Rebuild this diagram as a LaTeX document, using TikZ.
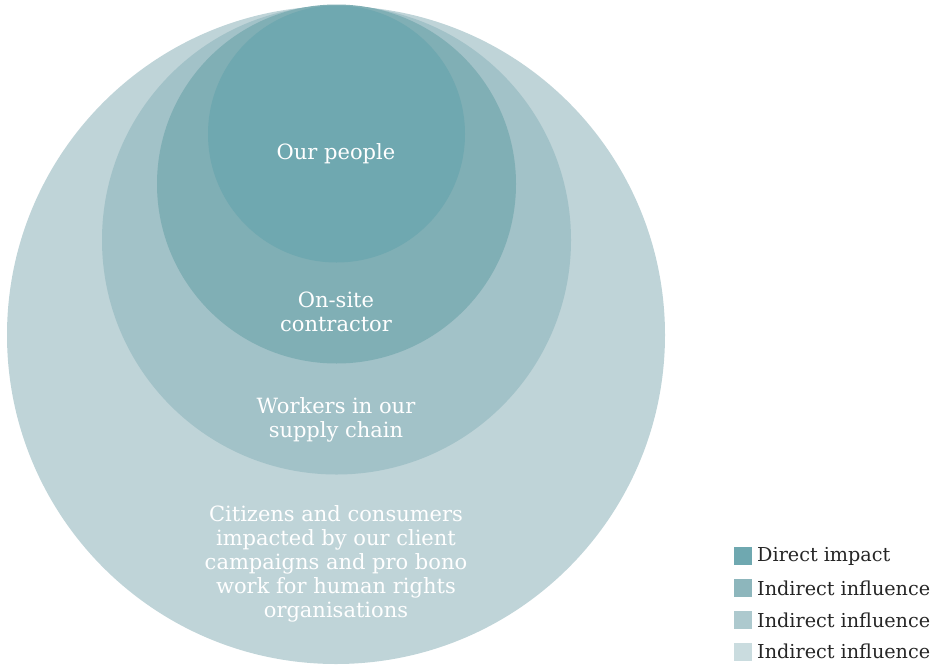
\documentclass[tikz,border=0pt]{standalone}
\usepackage{fontspec}
\setmainfont{DejaVu Serif}
\definecolor{cA}{HTML}{6FA8B0}
\definecolor{cB}{HTML}{80AFB5}
\definecolor{cC}{HTML}{A2C2C8}
\definecolor{cD}{HTML}{BFD4D8}
\definecolor{lA}{HTML}{6FA8B0}
\definecolor{lB}{HTML}{8DB6BC}
\definecolor{lC}{HTML}{ADC9CE}
\definecolor{lD}{HTML}{CADCDF}
\begin{document}
\begin{tikzpicture}[x=1pt,y=-1pt,
  lbl/.style={text=white,align=center,font=\fontsize{21}{24}\selectfont,inner sep=0pt},
  sw/.style={minimum width=18pt,minimum height=18pt,inner sep=0pt,draw=none},
  legtxt/.style={anchor=west,font=\fontsize{19.2}{22}\selectfont,inner sep=0pt,text=black!85}]
\useasboundingbox (0,0) rectangle (934,664);
\fill[cD] (336,335) circle (329);
\fill[cC] (336.5,240) circle (234.5);
\fill[cB] (336.5,184) circle (179.5);
\fill[cA] (336.5,134) circle (128.5);
\node[lbl] (people) at (336,154) {Our people};
\node[lbl] (contractor) at (336,312) {On-site\\contractor};
\node[lbl] (workers) at (336,420) {Workers in our\\supply chain};
\node[lbl] (citizens) at (336,564) {Citizens and consumers\\impacted by our client\\campaigns and pro bono\\work for human rights\\organisations};
\node[sw,fill=lA] (s1) at (743,556) {};
\node[sw,fill=lB] (s2) at (743,588) {};
\node[sw,fill=lC] (s3) at (743,620) {};
\node[sw,fill=lD] (s4) at (743,652) {};
\node[legtxt] (t1) at (757,556) {Direct impact};
\node[legtxt] (t2) at (757,588) {Indirect influence};
\node[legtxt] (t3) at (757,620) {Indirect influence};
\node[legtxt] (t4) at (757,651) {Indirect influence};
\end{tikzpicture}
\end{document}
